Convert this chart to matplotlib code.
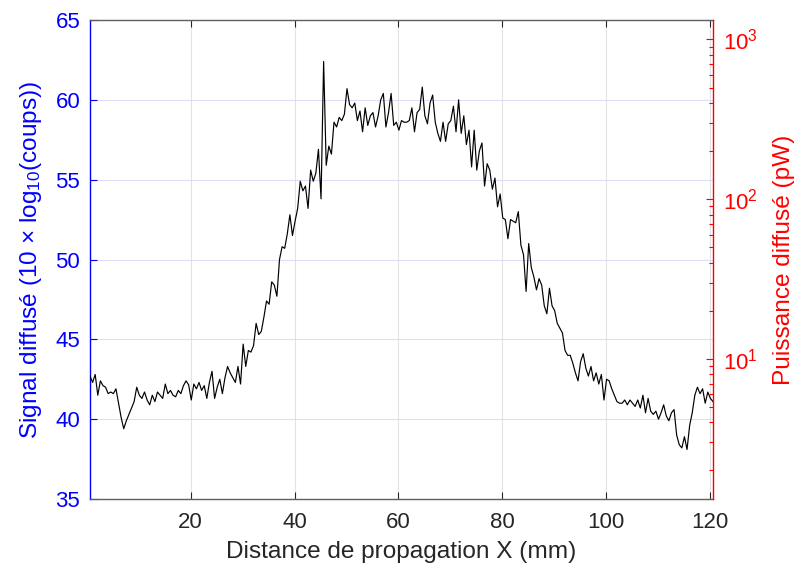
import numpy as np
import matplotlib
matplotlib.use("Agg")
import matplotlib.pyplot as plt
from matplotlib.ticker import LogLocator, NullFormatter

plt.rcParams['font.family'] = ['Liberation Sans', 'DejaVu Sans']
plt.rcParams['mathtext.fontset'] = 'custom'
plt.rcParams['mathtext.rm'] = 'Liberation Sans'
plt.rcParams['mathtext.it'] = 'Liberation Sans:italic'
plt.rcParams['mathtext.bf'] = 'Liberation Sans:bold'

# ---- data ----
x_start = 0.6      # mm
x_step = 0.5       # mm
signal_db = [
    42.7, 42.3, 42.8, 41.5, 42.4, 42.1, 42.0, 41.6, 41.7, 41.6,
    41.9, 41.0, 40.1, 39.4, 39.9, 40.3, 40.7, 41.1, 42.0, 41.5,
    41.3, 41.7, 41.2, 40.9, 41.5, 41.1, 41.7, 41.5, 41.3, 42.2,
    41.6, 41.8, 41.5, 41.4, 41.8, 41.6, 42.1, 42.4, 42.15, 41.2,
    42.2, 41.9, 42.3, 41.8, 42.1, 41.3, 42.3, 43.0, 41.3, 42.0,
    42.5, 41.6, 42.6, 43.3, 42.9, 42.6, 42.3, 43.3, 42.2, 44.7,
    43.3, 44.3, 44.2, 44.6, 46.0, 45.3, 45.5, 46.4, 47.4, 47.2,
    48.6, 48.4, 47.7, 50.0, 50.8, 50.7, 51.6, 52.8, 51.5, 52.4,
    53.2, 54.9, 54.3, 54.6, 53.2, 55.6, 54.9, 55.4, 56.9, 53.8,
    62.4, 55.9, 57.1, 56.6, 58.6, 58.3, 58.9, 58.7, 59.1, 60.7,
    59.7, 59.5, 59.8, 58.7, 59.3, 58.0, 59.5, 58.4, 59.0, 59.2,
    58.3, 59.0, 60.0, 60.4, 58.3, 59.2, 60.4, 58.4, 58.6, 58.1,
    58.7, 58.6, 58.6, 58.7, 59.5, 58.0, 59.2, 59.4, 60.8, 59.0,
    58.5, 59.8, 60.3, 58.6, 57.9, 57.4, 58.6, 57.4, 58.5, 58.7,
    59.6, 58.0, 60.0, 57.9, 59.0, 57.2, 58.1, 55.8, 58.1, 55.6,
    56.8, 57.3, 54.6, 56.0, 55.6, 54.4, 55.1, 53.3, 54.1, 52.6,
    52.5, 51.3, 52.5, 52.4, 52.3, 53.0, 50.9, 50.3, 48.0, 51.0,
    49.5, 48.9, 48.1, 48.8, 48.4, 47.1, 46.6, 48.2, 47.1, 46.8,
    46.0, 45.7, 45.4, 44.3, 44.0, 44.0, 43.5, 42.9, 42.4, 43.6,
    44.1, 43.2, 42.7, 43.3, 42.4, 42.9, 42.2, 42.8, 41.2, 42.5,
    42.4, 41.9, 41.5, 41.1, 41.0, 41.0, 41.2, 40.9, 41.2, 41.0,
    40.8, 41.2, 40.7, 41.5, 40.4, 41.3, 40.5, 40.3, 40.5, 40.0,
    40.4, 40.9, 40.2, 39.9, 40.4, 40.6, 39.0, 38.4, 38.2, 38.9,
    38.1, 39.6, 40.4, 41.5, 42.0, 41.6, 41.9, 41.0, 41.7, 41.3,
    41.1,
]
x_mm = x_start + x_step * np.arange(len(signal_db))

left_ylim = (35, 65)
left_yticks = [35, 40, 45, 50, 55, 60, 65]
x_ticks = [20, 40, 60, 80, 100, 120]
db_offset = 33.78   # 10*log10(P/pW) = signal_db - db_offset

# ---- figure ----
fig = plt.figure(figsize=(7.95, 5.70), dpi=100)
ax = fig.add_axes([90/795, 1-499/570, (713-90)/795, (499-20)/570])

ax.plot(x_mm, signal_db, color='black', lw=0.85, zorder=3)
ax.set_xlim(x_mm[0], x_mm[-1])
ax.set_ylim(*left_ylim)
ax.set_yticks(left_yticks)
ax.set_xticks(x_ticks)

axis_gray = '#262626'
ax.xaxis.grid(True, color='#e3e3e3', lw=0.8)
ax.yaxis.grid(True, color='#dedef6', lw=0.8)
ax.set_axisbelow(True)

ax.tick_params(axis='x', direction='in', top=True, bottom=True, length=5,
               width=0.8, color=axis_gray, labelcolor=axis_gray,
               labelsize=16, pad=9)
ax.tick_params(axis='y', direction='in', left=True, right=False, length=5,
               width=0.8, color='blue', labelcolor='blue', labelsize=16, pad=7)
for s in ('top', 'bottom'):
    ax.spines[s].set_color('#5f5f5f')
    ax.spines[s].set_linewidth(1.0)
ax.spines['left'].set_color('blue')
ax.spines['left'].set_linewidth(1.0)
ax.spines['right'].set_visible(False)

ax.set_xlabel('Distance de propagation X (mm)', fontsize=17.6,
              color=axis_gray, labelpad=6)
ax.set_ylabel('Signal diffusé (10 × log$_{10}$(coups))', fontsize=17.6,
              color='blue', labelpad=8)

ax2 = ax.twinx()
ax2.set_yscale('log')
ax2.set_ylim(10 ** ((left_ylim[0] - db_offset) / 10),
             10 ** ((left_ylim[1] - db_offset) / 10))
ax2.yaxis.set_major_locator(LogLocator(base=10, numticks=10))
ax2.yaxis.set_minor_locator(LogLocator(base=10, subs=np.arange(2, 10), numticks=10))
ax2.yaxis.set_minor_formatter(NullFormatter())
ax2.tick_params(axis='y', which='major', direction='in', length=5, width=0.8,
                color='red', labelcolor='red', labelsize=16, pad=7)
ax2.tick_params(axis='y', which='minor', direction='in', length=3, width=0.8,
                color='red')
for s in ('top', 'bottom', 'left'):
    ax2.spines[s].set_visible(False)
ax2.spines['right'].set_color('red')
ax2.spines['right'].set_linewidth(1.0)
ax2.set_ylabel('Puissance diffusé (pW)', fontsize=17.6, color='red', labelpad=11)

fig.savefig('out.png', dpi=100)
